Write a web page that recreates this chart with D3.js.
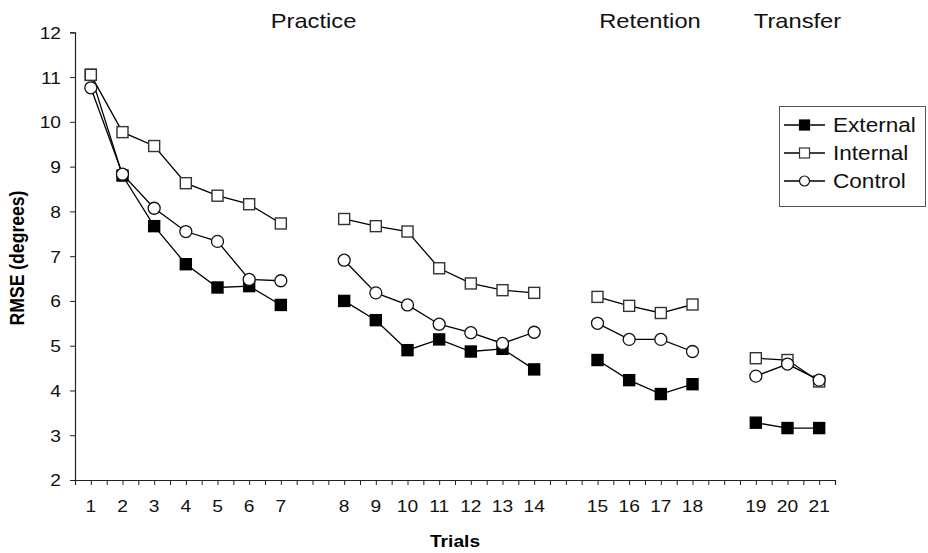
<!DOCTYPE html>
<html>
<head>
<meta charset="utf-8">
<script src="https://cdn.jsdelivr.net/npm/d3@7"></script>
<style>
  html, body { margin: 0; padding: 0; background: #fff; }
  svg { display: block; font-family: Arial, "Liberation Sans", sans-serif; }
</style>
</head>
<body>
<svg id="chart" width="928" height="553"></svg>
<script>
// ---- data ----
const trials = [1,2,3,4,5,6,7,8,9,10,11,12,13,14,15,16,17,18,19,20,21];
const blocks = [[1,7],[8,14],[15,18],[19,21]];
const external = [11.05,8.80,7.67,6.82,6.30,6.33,5.91,6.00,5.57,4.90,5.14,4.87,4.93,4.47,4.68,4.23,3.92,4.14,3.28,3.16,3.16];
const internal = [11.05,9.77,9.46,8.63,8.35,8.16,7.73,7.83,7.67,7.55,6.73,6.39,6.24,6.18,6.09,5.89,5.73,5.92,4.72,4.68,4.20];
const control  = [10.76,8.83,8.07,7.55,7.33,6.48,6.45,6.91,6.18,5.91,5.48,5.29,5.05,5.30,5.50,5.14,5.14,4.87,4.32,4.59,4.23];
const seriesNames = ["External","Internal","Control"];
const yTicks = [2,3,4,5,6,7,8,9,10,11,12];
const sections = [
  {label: "Practice",  from: 1,  to: 14},
  {label: "Retention", from: 15, to: 18},
  {label: "Transfer",  from: 19, to: 21}
];

(function () {
// ---- layout ----
const svg = d3.select("#chart");
const mLeft = 75, mRight = 835, mTop = 32.3, mBottom = 480;
const SX = 1.13; // horizontal text stretch
const sectionDx = [1, 5, 10];

const slotKeys = [];
blocks.forEach((b, i) => {
  if (i > 0) slotKeys.push("gap" + i);
  trials.filter(t => t >= b[0] && t <= b[1]).forEach(t => slotKeys.push(String(t)));
});

const x = d3.scaleBand().domain(slotKeys).range([mLeft, mRight]).paddingInner(0).paddingOuter(0);
const xc = t => x(String(t)) + x.bandwidth() / 2;
const xLin = d3.scaleLinear().domain([0, slotKeys.length]).range([mLeft, mRight]);
const y = d3.scaleLinear().domain([2, 12]).range([mBottom, mTop]);

function stretchText(sel) {
  sel.each(function () {
    const t = d3.select(this);
    const tx = +t.attr("x") || 0, ty = +t.attr("y") || 0;
    t.attr("transform", `translate(${tx},${ty}) scale(${SX},1)`).attr("x", 0).attr("y", 0);
  });
}

// ---- y axis ----
const yAxis = svg.append("g").attr("transform", `translate(${mLeft},0)`)
  .call(d3.axisLeft(y).tickValues(yTicks).tickSize(5).tickPadding(0).tickFormat(d3.format("d")));
yAxis.select(".domain").attr("stroke", "#222").attr("stroke-width", 1.2);
yAxis.selectAll(".tick line").attr("stroke", "#222");
yAxis.selectAll(".tick text").attr("fill", "#111").attr("font-size", 17)
  .attr("font-family", "Arial, 'Liberation Sans', sans-serif")
  .attr("text-anchor", "end").attr("dy", "0.35em")
  .each(function () {
    d3.select(this).attr("transform", `translate(-14,0) scale(${SX},1)`).attr("x", 0);
  });

// ---- x axis: half-slot ticks, labels per trial ----
const halfTicks = d3.range(0, slotKeys.length + 0.001, 0.5);
const xAxisT = svg.append("g").attr("transform", `translate(0,${mBottom})`)
  .call(d3.axisBottom(xLin).tickValues(halfTicks).tickSize(5).tickFormat(""));
xAxisT.select(".domain").attr("stroke", "#222").attr("stroke-width", 1.2);
xAxisT.selectAll(".tick line").attr("stroke", "#222");

const xAxisL = svg.append("g").attr("transform", `translate(0,${mBottom})`)
  .call(d3.axisBottom(x).tickValues(trials.map(String)).tickSize(0).tickPadding(20));
xAxisL.select(".domain").remove();
xAxisL.selectAll(".tick text").attr("fill", "#111").attr("font-size", 17)
  .attr("font-family", "Arial, 'Liberation Sans', sans-serif")
  .attr("dy", "0.71em")
  .each(function () {
    d3.select(this).attr("transform", `translate(0,20) scale(${SX},1)`).attr("y", 0);
  });

// ---- axis titles ----
svg.append("text").text("Trials")
  .attr("x", (mLeft + mRight) / 2).attr("y", 547)
  .attr("text-anchor", "middle").attr("font-weight", "bold").attr("font-size", 17)
  .call(stretchText);

svg.append("text").text("RMSE (degrees)")
  .attr("text-anchor", "middle").attr("font-weight", "bold").attr("font-size", 17.6)
  .attr("transform", `translate(24,258) scale(${SX},1) rotate(-90)`);

// ---- section titles ----
svg.selectAll("text.section").data(sections).join("text")
  .attr("class", "section")
  .text(d => d.label)
  .attr("x", (d, i) => (xc(d.from) + xc(d.to)) / 2 + sectionDx[i])
  .attr("y", 28)
  .attr("text-anchor", "middle").attr("font-size", 21).attr("fill", "#111")
  .call(stretchText);

// ---- series ----
const seriesData = [
  {name: seriesNames[0], values: external, shape: "square", fill: "#000", stroke: "#000"},
  {name: seriesNames[1], values: internal, shape: "square", fill: "#fff", stroke: "#333"},
  {name: seriesNames[2], values: control,  shape: "circle", fill: "#fff", stroke: "#111"}
];

const line = d3.line().x(d => xc(d.t)).y(d => y(d.v));

seriesData.forEach(s => {
  const pts = trials.map((t, i) => ({t, v: s.values[i]}));
  const g = svg.append("g");
  blocks.forEach(b => {
    g.append("path")
      .datum(pts.filter(p => p.t >= b[0] && p.t <= b[1]))
      .attr("d", line).attr("fill", "none").attr("stroke", "#000").attr("stroke-width", 1.3);
  });
  if (s.shape === "square") {
    const sz = 11;
    g.selectAll("rect").data(pts).join("rect")
      .attr("x", d => xc(d.t) - sz / 2).attr("y", d => y(d.v) - sz / 2)
      .attr("width", sz).attr("height", sz)
      .attr("fill", s.fill).attr("stroke", s.stroke).attr("stroke-width", 1.4);
  } else {
    g.selectAll("circle").data(pts).join("circle")
      .attr("cx", d => xc(d.t)).attr("cy", d => y(d.v)).attr("r", 6)
      .attr("fill", s.fill).attr("stroke", s.stroke).attr("stroke-width", 1.3);
  }
});

// ---- legend ----
const lg = svg.append("g");
lg.append("rect").attr("x", 779.5).attr("y", 106.5).attr("width", 146).attr("height", 100)
  .attr("fill", "#fff").attr("stroke", "#555").attr("stroke-width", 1);
seriesData.forEach((s, i) => {
  const cy = 125 + i * 28;
  lg.append("line").attr("x1", 784).attr("x2", 825).attr("y1", cy).attr("y2", cy)
    .attr("stroke", "#000").attr("stroke-width", 1.3);
  if (s.shape === "square") {
    lg.append("rect").attr("x", 804.5 - 5).attr("y", cy - 5).attr("width", 10).attr("height", 10)
      .attr("fill", s.fill).attr("stroke", s.stroke).attr("stroke-width", 1.2);
  } else {
    lg.append("circle").attr("cx", 804.5).attr("cy", cy).attr("r", 5)
      .attr("fill", s.fill).attr("stroke", s.stroke).attr("stroke-width", 1.2);
  }
  lg.append("text").text(s.name).attr("x", 833).attr("y", cy + 7)
    .attr("font-size", 20).attr("fill", "#111")
    .call(stretchText);
});
})();
</script>
</body>
</html>
